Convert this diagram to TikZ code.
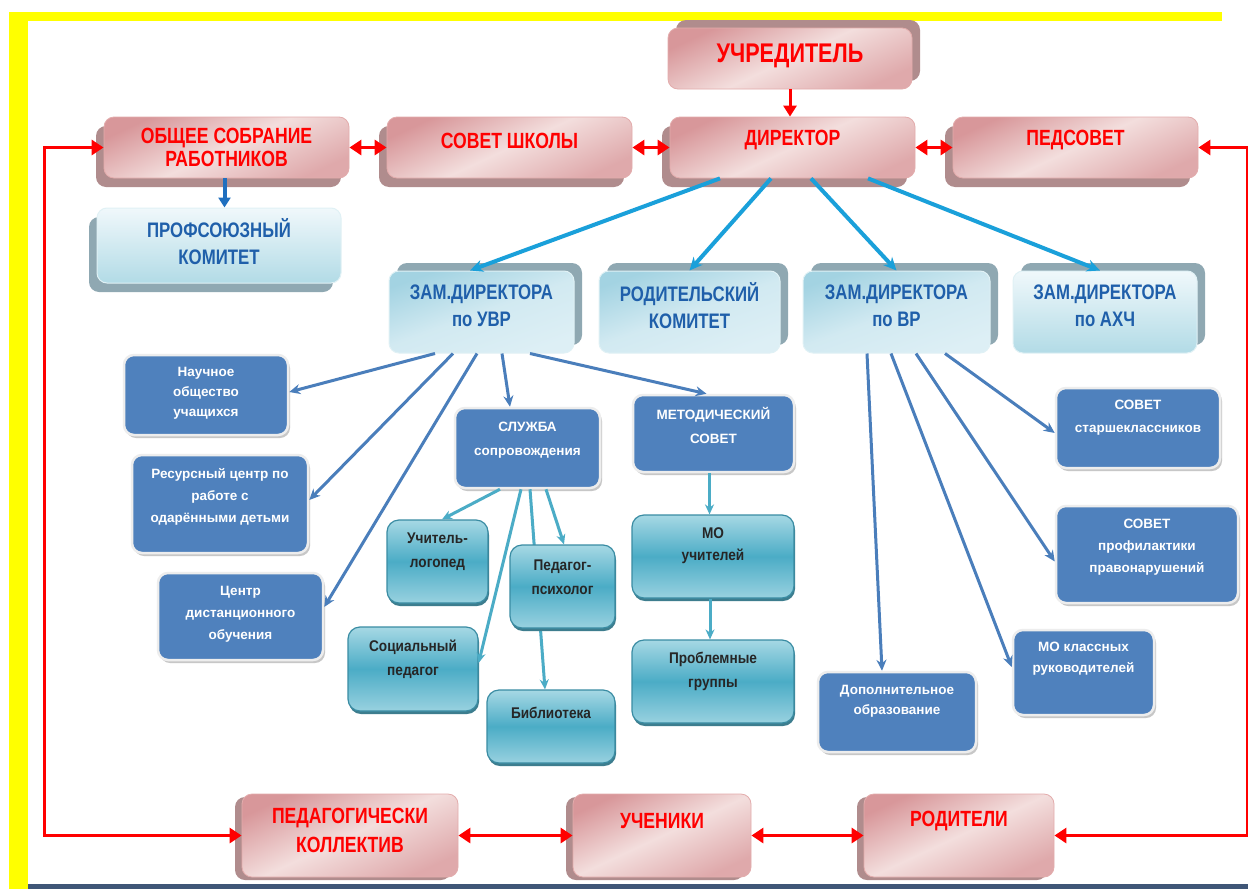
\documentclass[tikz,border=0pt]{standalone}
\usepackage{fontspec}
\setmainfont{Liberation Sans}
\newfontfamily\narr[FakeStretch=0.8]{Liberation Sans}
\newfontfamily\narrt[FakeStretch=0.88]{Liberation Sans}
\usetikzlibrary{arrows.meta,shadows}
\definecolor{redA}{HTML}{F3DEDD}
\definecolor{redB}{HTML}{D8979A}
\definecolor{redE}{HTML}{E3ACAC}
\definecolor{redS}{HTML}{B08C8D}
\definecolor{redT}{HTML}{FF0000}
\definecolor{redL}{HTML}{FF0000}
\definecolor{lbTop}{HTML}{F0F8FB}
\definecolor{lbBot}{HTML}{B2DBE6}
\definecolor{lbDk}{HTML}{A3D3E2}
\definecolor{lbLt}{HTML}{DDEFF5}
\definecolor{lbS}{HTML}{8FA8B2}
\definecolor{lbT}{HTML}{1F5FAA}
\definecolor{dbF}{HTML}{4F81BD}
\definecolor{tealL}{HTML}{A6D8E4}
\definecolor{tealM}{HTML}{4BACC6}
\definecolor{tealE}{HTML}{3A8CA3}
\definecolor{tealS}{HTML}{3D7D8E}
\definecolor{cyanA}{HTML}{1AA0DA}
\definecolor{steelA}{HTML}{4A7EBB}
\definecolor{dkA}{HTML}{1F6FBF}
\definecolor{yelB}{HTML}{FFFF00}
\definecolor{barC}{HTML}{3F5677}
\tikzset{
  box/.style={rounded corners=10pt, inner sep=0pt},
  shBL/.style={general shadow={fill=#1, shadow xshift=-8pt, shadow yshift=-9pt}},
  shTR/.style={general shadow={fill=#1, shadow xshift=8pt, shadow yshift=8pt}},
  shB/.style={general shadow={fill=#1, shadow xshift=-7pt, shadow yshift=-3pt}},
  redbox/.style={box, draw=redE, line width=0.8pt, top color=redB, bottom color=redB!75!redA, middle color=redA, shading angle=25},
  lboxA/.style={box, draw=white!60!lbBot, line width=1pt, top color=lbTop, bottom color=lbBot},
  lboxB/.style={box, draw=white!60!lbBot, line width=1pt, top color=lbDk, bottom color=lbLt, middle color=lbLt!80!lbDk, shading angle=20},
  dbox/.style={box, fill=dbF, draw=white!93!black, line width=2.5pt, general shadow={fill=black!22, shadow xshift=2pt, shadow yshift=-3pt}},
  tbox/.style={rounded corners=12pt, inner sep=0pt, draw=tealE, line width=1.2pt, top color=tealL, bottom color=tealL!85!tealM, middle color=tealM, general shadow={fill=tealS, shadow xshift=1pt, shadow yshift=-3pt}},
  rtxt/.style={font=\narr\bfseries\fontsize{22}{23}\selectfont, text=redT, align=center, inner sep=0pt},
  lbtxt/.style={font=\narr\bfseries\fontsize{21}{27}\selectfont, text=lbT, align=center, inner sep=0pt},
  wtxt/.style={font=\bfseries\fontsize{13.5}{22}\selectfont, text=white, align=center, inner sep=0pt},
  ttxt/.style={font=\narrt\bfseries\fontsize{15.5}{24}\selectfont, text=black!85, align=center, inner sep=0pt},
  redarr/.style={draw=redL, line width=3pt, arrows={Triangle[length=12pt,width=15pt]-Triangle[length=12pt,width=15pt]}},
  redone/.style={draw=redL, line width=3pt, arrows={-Triangle[length=11pt,width=13pt]}},
  dkarr/.style={draw=dkA, line width=4pt, arrows={-Triangle[length=10pt,width=12pt]}},
  cyarr/.style={draw=cyanA, line width=4pt, arrows={-Stealth[length=13pt,width=12pt]}},
  starr/.style={draw=steelA, line width=3pt, arrows={-Stealth[length=11pt,width=10pt]}},
  tearr/.style={draw=tealM, line width=3pt, arrows={-Stealth[length=10pt,width=9pt]}}
}
\newcommand\mkbox[9]{%
  \pgfmathsetmacro\bxw{#5-#3}\pgfmathsetmacro\bxh{#6-#4}%
  \pgfmathsetmacro\bxx{(#3+#5)/2}\pgfmathsetmacro\bxy{(#4+#6)/2}%
  \node[#2, minimum width=\bxw pt, minimum height=\bxh pt] (#1) at (\bxx,\bxy) {};
  \node[#8] (#1-t) at ([yshift=#7pt]#1.center) {#9};}
\begin{document}
\begin{tikzpicture}[x=1pt,y=-1pt]
\useasboundingbox (0,0) rectangle (1248,889);
\fill[white] (0,0) rectangle (1248,889);
% frame
\fill[yelB] (9,12) rectangle (28,889);
\fill[yelB] (9,12) rectangle (1222,21);
\fill[barC] (28,884) rectangle (1248,889);

% red boxes
\mkbox{uch}{redbox,shTR=redS}{668}{28}{912}{89}{3}{rtxt,font=\narr\bfseries\fontsize{27}{28}\selectfont}{УЧРЕДИТЕЛЬ}
\mkbox{dir}{redbox,shBL=redS}{670}{117}{915}{178}{7}{rtxt}{ДИРЕКТОР}
\mkbox{ped}{redbox,shBL=redS}{953}{117}{1198}{178}{7}{rtxt}{ПЕДСОВЕТ}
\mkbox{sov}{redbox,shBL=redS}{387}{117}{632}{178}{7}{rtxt}{СОВЕТ ШКОЛЫ}
\mkbox{obs}{redbox,shBL=redS}{104}{117}{349}{178}{0}{rtxt}{ОБЩЕЕ СОБРАНИЕ\\РАБОТНИКОВ}
\mkbox{pk}{redbox,shB=redS}{242}{794}{458}{877}{5}{rtxt,font=\narr\bfseries\fontsize{22}{29}\selectfont}{ПЕДАГОГИЧЕСКИ\\КОЛЛЕКТИВ}
\mkbox{uchen}{redbox,shB=redS}{573}{794}{751}{877}{14}{rtxt}{УЧЕНИКИ}
\mkbox{rod}{redbox,shB=redS}{864}{794}{1054}{877}{14}{rtxt}{РОДИТЕЛИ}

% light blue boxes
\mkbox{prof}{lboxA,shBL=lbS}{97}{208}{341}{283}{4}{lbtxt}{ПРОФСОЮЗНЫЙ\\КОМИТЕТ}
\mkbox{uvr}{lboxB,shTR=lbS}{389}{271}{574}{353}{6}{lbtxt}{ЗАМ.ДИРЕКТОРА\\по УВР}
\mkbox{rk}{lboxB,shTR=lbS}{599}{271}{780}{353}{6}{lbtxt}{РОДИТЕЛЬСКИЙ\\КОМИТЕТ}
\mkbox{vr}{lboxB,shTR=lbS}{803}{271}{990}{353}{6}{lbtxt}{ЗАМ.ДИРЕКТОРА\\по ВР}
\mkbox{ahc}{lboxA,shTR=lbS}{1013}{271}{1197}{353}{6}{lbtxt}{ЗАМ.ДИРЕКТОРА\\по АХЧ}

% dark blue boxes
\mkbox{nauch}{dbox}{124}{355}{288}{435}{2}{wtxt,font=\bfseries\fontsize{13.5}{20}\selectfont}{Научное\\общество\\учащихся}
\mkbox{res}{dbox}{132}{455}{308}{553}{7}{wtxt}{Ресурсный центр по\\работе с\\одарёнными детьми}
\mkbox{cdo}{dbox}{158}{573}{323}{660}{2}{wtxt}{Центр\\дистанционного\\обучения}
\mkbox{sluzh}{dbox}{455}{408}{600}{488}{8}{wtxt,font=\bfseries\fontsize{13.5}{24}\selectfont}{СЛУЖБА\\сопровождения}
\mkbox{met}{dbox}{633}{395}{794}{472}{8}{wtxt,font=\bfseries\fontsize{13.5}{24}\selectfont}{МЕТОДИЧЕСКИЙ\\СОВЕТ}
\mkbox{dop}{dbox}{818}{672}{976}{752}{11}{wtxt,font=\bfseries\fontsize{13.5}{20}\selectfont}{Дополнительное\\образование}
\mkbox{mok}{dbox}{1013}{630}{1154}{715}{14}{wtxt,font=\bfseries\fontsize{13.5}{21}\selectfont}{МО классных\\руководителей}
\mkbox{sst}{dbox}{1056}{388}{1220}{468}{10}{wtxt,font=\bfseries\fontsize{13.5}{23}\selectfont}{СОВЕТ\\старшеклассников}
\mkbox{spr}{dbox}{1056}{506}{1238}{603}{7}{wtxt}{СОВЕТ\\профилактики\\правонарушений}

% teal boxes
\mkbox{log}{tbox}{387}{520}{488}{603}{10}{ttxt}{Учитель-\\логопед}
\mkbox{soc}{tbox}{348}{627}{478}{711}{10}{ttxt}{Социальный\\педагог}
\mkbox{bib}{tbox}{487}{690}{615}{763}{14}{ttxt}{Библиотека}
\draw[tearr] ([xshift=2.5pt]sluzh.south) -- ([xshift=-6pt]bib.north);
\mkbox{psy}{tbox}{510}{545}{615}{628}{9}{ttxt}{Педагог-\\психолог}
\mkbox{mou}{tbox}{632}{515}{794}{598}{11}{ttxt,font=\narrt\bfseries\fontsize{15.5}{22}\selectfont}{МО\\учителей}
\mkbox{prb}{tbox}{632}{640}{794}{723}{10}{ttxt}{Проблемные\\группы}

% red connectors
\draw[redarr] (obs.west) -- ++(-59,0) |- (pk.west);
\coordinate (rc) at (1247,148);
\draw[redarr] (ped.east) -- (ped.east -| rc) |- (rod.east);
\draw[redarr] (obs.east) -- (sov.west);
\draw[redarr] (sov.east) -- (dir.west);
\draw[redarr] (dir.east) -- (ped.west);
\draw[redarr] (pk.east) -- (uchen.west);
\draw[redarr] (uchen.east) -- (rod.west);
\draw[redone] (uch.south) -- (uch.south |- dir.north);

% dark blue
\draw[dkarr] ([xshift=-2pt]obs.south) -- ([xshift=-2pt]obs.south |- prof.north);

% cyan from director
\draw[cyarr] ([xshift=-72.5pt]dir.south) -- ([xshift=-11.5pt]uvr.north);
\draw[cyarr] ([xshift=-21.5pt]dir.south) -- (rk.north);
\draw[cyarr] ([xshift=18.5pt]dir.south) -- (vr.north);
\draw[cyarr] ([xshift=75.5pt]dir.south) -- ([xshift=-5pt]ahc.north);

% from UVR
\draw[starr] ([xshift=-46.5pt]uvr.south) -- ([yshift=3pt]nauch.east);
\draw[starr] ([xshift=-28.5pt]uvr.south) -- ([yshift=4pt]res.east);
\draw[starr] ([xshift=-4.5pt]uvr.south) -- ([yshift=9.5pt]cdo.east);
\draw[starr] ([xshift=20.5pt]uvr.south) -- ([xshift=-17.5pt]sluzh.north);
\draw[starr] ([xshift=48.5pt]uvr.south) -- ([xshift=-7pt]met.north);

% from VR
\draw[starr] ([xshift=-29.5pt]vr.south) -- ([xshift=-15pt]dop.north);
\draw[starr] ([xshift=-5.5pt]vr.south) -- ([yshift=5.5pt]mok.west);
\draw[starr] ([xshift=19.5pt]vr.south) -- ([yshift=-7pt]spr.west);
\draw[starr] ([xshift=48.5pt]vr.south) -- ([yshift=-5pt]sst.west);

% from sluzhba
\draw[tearr] ([xshift=-27.5pt]sluzh.south) -- ([xshift=4.5pt]log.north);
\draw[tearr] ([xshift=-6.5pt]sluzh.south) -- ([yshift=6pt]soc.east);
\draw[tearr] ([xshift=18.5pt]sluzh.south) -- ([xshift=1.5pt]psy.north);

% methodical chain
\draw[tearr] ([xshift=-4pt]met.south) -- ([xshift=-4pt]met.south |- mou.north);
\draw[tearr] ([xshift=-3pt]mou.south) -- ([xshift=-3pt]mou.south |- prb.north);
\end{tikzpicture}
\end{document}
